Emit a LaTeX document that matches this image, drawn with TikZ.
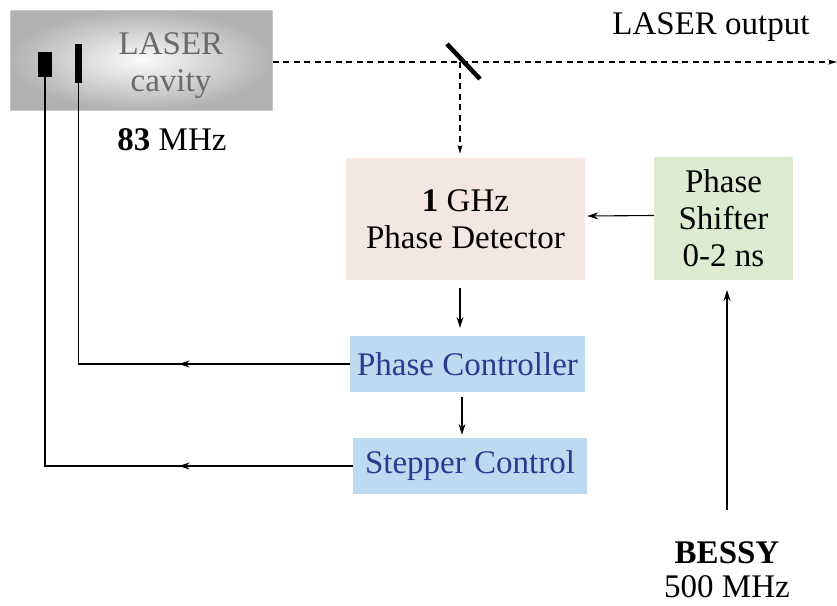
\documentclass[tikz,border=0pt]{standalone}
\usepackage{fontspec}
\setmainfont{Liberation Serif}
\usetikzlibrary{arrows.meta,decorations.markings}
\definecolor{pdfill}{HTML}{F4E7E2}
\definecolor{psfill}{HTML}{DDEBD1}
\definecolor{ctlfill}{HTML}{BDDAF1}
\definecolor{ctltext}{HTML}{2B3990}
\definecolor{lasergray}{HTML}{B2B2B2}
\definecolor{laserborder}{HTML}{C8C8C8}
\definecolor{lasertext}{HTML}{6A6A6A}
\tikzset{
  every node/.style={font=\fontsize{33}{37}\selectfont, inner sep=2pt},
  blockbox/.style={draw=none, align=center},
  ctlbox/.style={blockbox, fill=ctlfill, text=ctltext},
  arr/.style={-{Stealth[length=11pt,width=7pt]}, line width=1.1pt},
  beam/.style={line width=1.3pt, dash pattern=on 6pt off 4.5pt},
  feed/.style={line width=1.3pt},
  midarrow/.style={postaction={decorate}, decoration={markings, mark=at position #1 with {\arrow{Stealth[length=11pt,width=7pt]}}}},
  blk/.style={fill=black, draw=none, inner sep=0pt},
}
\begin{document}
\begin{tikzpicture}[x=1pt,y=-1pt]
\useasboundingbox (0,0) rectangle (837,605);
% laser cavity
\node[draw=laserborder, line width=1pt, shading=radial, inner color=white!95!lasergray, outer color=lasergray,
      minimum width=262pt, minimum height=100pt, inner sep=0pt] (laser) at (141,60) {};
\node[text=lasertext, align=center] (lasertxt) at (171,66) {LASER\\cavity};
\node[blk, minimum width=14pt, minimum height=25pt] (small) at (45,64.5) {};
\node[blk, minimum width=7pt, minimum height=39pt] (thin) at (78.5,63.5) {};
\node (mhz) at (172,140) {\textbf{83} MHz};
% output
\node (outtxt) at (711,27) {LASER output};
\coordinate (outend) at (837,62);
\coordinate (split) at (460,62);
\draw[beam, -{Stealth[length=9pt,width=5pt]}] ([yshift=-2pt]laser.east) -- (outend);
\draw[line width=4.5pt] (447,44) -- (480,79);
% blocks
\node[blockbox, fill=pdfill, minimum width=239pt, minimum height=122pt] (pd) at (465.5,219) {\textbf{1} GHz\\Phase Detector};
\node[blockbox, fill=psfill, minimum width=139pt, minimum height=123pt] (ps) at (723.5,218.5) {Phase\\Shifter\\0-2 ns};
\node[ctlbox, minimum width=235pt, minimum height=56pt] (pc) at (467.5,364) {Phase Controller};
\node[ctlbox, minimum width=234pt, minimum height=56pt] (sc) at (470,466) {Stepper Control};
\node (bessy) at (727,553) {\textbf{BESSY}};
\node (bmhz) at (727,587) {500 MHz};
\coordinate (bstart) at (727,510);
\coordinate (bend) at (727,290);
% connectors
\draw[beam, -{Stealth[length=9pt,width=5pt]}] (split) -- ([xshift=-5.5pt,yshift=4pt]pd.north);
\draw[arr] ([yshift=3pt]ps.west) -- ([yshift=3pt,xshift=2pt]pd.east);
\draw[arr] ([xshift=-5.5pt,yshift=-8pt]pd.south) -- ([xshift=-7.5pt,yshift=8pt]pc.north);
\draw[arr] ([xshift=-5.5pt,yshift=-5pt]pc.south) -- ([xshift=-8pt,yshift=3pt]sc.north);
\draw[arr] (bstart) -- (bend);
\draw[feed, midarrow=0.31] (pc.west) -- (pc.west -| thin.south) -- (thin.south);
\draw[feed, midarrow=0.25] (sc.west) -- (sc.west -| small.south) -- (small.south);
\end{tikzpicture}
\end{document}
